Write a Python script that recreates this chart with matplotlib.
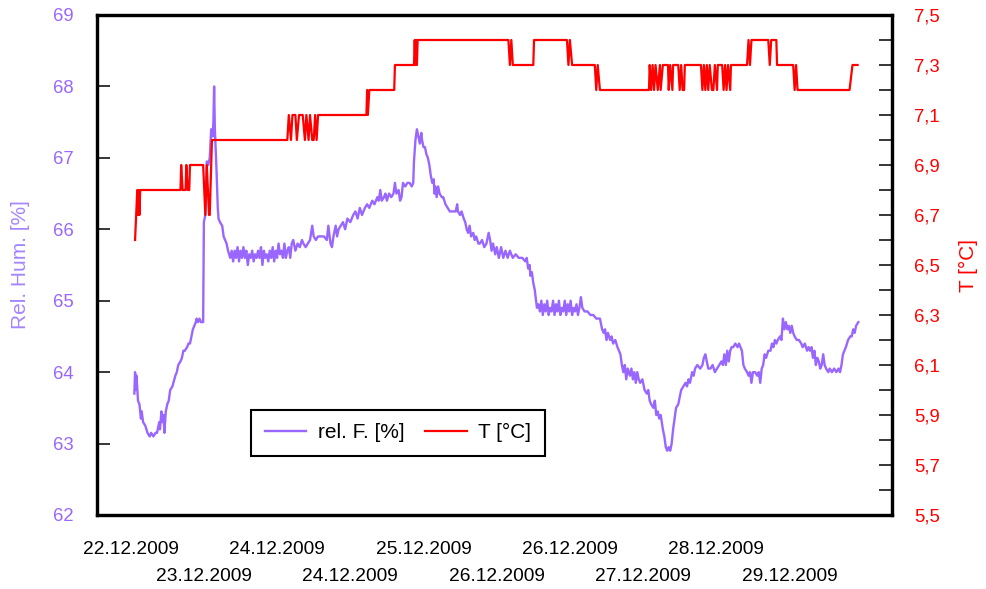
import matplotlib
matplotlib.use("Agg")
import matplotlib.pyplot as plt
from matplotlib.ticker import MultipleLocator

plt.rcParams["font.family"] = ["Liberation Sans", "DejaVu Sans"]

# x = Messpunkt (sample number), a date label every 100 samples
label_pos = [0, 100, 200, 300, 400, 500, 600, 700, 800, 900]
date_labels = ["22.12.2009", "23.12.2009", "24.12.2009", "24.12.2009", "25.12.2009",
               "26.12.2009", "26.12.2009", "27.12.2009", "28.12.2009", "29.12.2009"]

# relative humidity [%]
rh_x = [5, 6, 7, 8, 10, 12, 14, 15, 17, 20, 23, 26,
        28, 31, 34, 36, 39, 40, 42, 43, 45, 46, 48, 50,
        52, 54, 57, 61, 63, 65, 68, 70, 72, 74, 77, 79,
        81, 83, 85, 87, 89, 90, 92, 94, 96, 99, 100, 102,
        104, 106, 108, 110, 112, 113, 114, 115, 117, 119, 120, 122,
        125, 127, 129, 131, 133, 136, 138, 140, 142, 144, 146, 148,
        150, 152, 154, 156, 158, 160, 162, 164, 166, 168, 170, 172,
        174, 176, 178, 180, 182, 184, 186, 188, 190, 192, 194, 196,
        198, 200, 202, 204, 206, 208, 210, 212, 214, 216, 218, 220,
        222, 225, 228, 231, 234, 236, 239, 242, 245, 248, 250, 253,
        256, 260, 264, 268, 270, 273, 275, 277, 280, 282, 284, 287,
        290, 293, 296, 300, 304, 307, 310, 313, 316, 320, 323, 326,
        330, 333, 337, 339, 341, 343, 346, 348, 350, 353, 356, 359,
        361, 363, 366, 368, 370, 372, 375, 378, 381, 384, 386, 387,
        389, 391, 393, 395, 397, 398, 400, 402, 404, 406, 408, 410,
        412, 414, 415, 416, 418, 420, 422, 425, 427, 430, 433, 436,
        440, 444, 446, 447, 450, 452, 455, 457, 459, 461, 463, 465,
        468, 470, 472, 475, 477, 480, 483, 486, 489, 491, 493, 495,
        498, 500, 503, 506, 509, 512, 515, 518, 522, 526, 530, 535,
        539, 541, 543, 545, 546, 548, 550, 552, 555, 557, 559, 561,
        563, 565, 567, 569, 571, 573, 575, 577, 579, 581, 583, 585,
        587, 589, 591, 593, 595, 597, 599, 601, 603, 605, 607, 609,
        611, 613, 615, 617, 620, 624, 628, 632, 636, 641, 644, 646,
        648, 650, 652, 655, 657, 659, 662, 665, 667, 669, 671, 673,
        675, 677, 679, 682, 684, 686, 688, 690, 692, 694, 696, 699,
        702, 705, 707, 709, 711, 714, 716, 718, 720, 722, 724, 727,
        729, 731, 733, 735, 737, 739, 741, 743, 745, 748, 750, 752,
        755, 758, 760, 762, 764, 767, 769, 771, 774, 778, 781, 783,
        785, 787, 789, 792, 795, 798, 801, 804, 807, 809, 811, 813,
        815, 817, 819, 821, 823, 826, 829, 831, 833, 835, 837, 839,
        842, 844, 846, 848, 850, 853, 856, 858, 860, 862, 864, 866,
        868, 871, 874, 876, 878, 880, 882, 884, 887, 889, 891, 893,
        895, 897, 899, 901, 903, 905, 907, 910, 913, 916, 918, 921,
        924, 926, 928, 930, 932, 934, 936, 938, 940, 942, 944, 946,
        948, 950, 953, 955, 958, 961, 964, 967, 969, 971, 973, 975,
        977, 980, 983, 985, 987, 989, 991, 994]
rh_y = [63.7, 64.0, 63.75, 63.95, 63.6, 63.55, 63.35, 63.45, 63.3, 63.25, 63.15, 63.1,
        63.15, 63.1, 63.15, 63.15, 63.3, 63.2, 63.45, 63.3, 63.4, 63.15, 63.45, 63.55,
        63.6, 63.75, 63.8, 63.95, 64.0, 64.1, 64.15, 64.2, 64.3, 64.3, 64.35, 64.4,
        64.4, 64.5, 64.6, 64.65, 64.7, 64.75, 64.7, 64.75, 64.7, 64.7, 66.1, 66.2,
        66.95, 66.9, 67.0, 67.4, 67.3, 67.5, 68.0, 67.4, 66.9, 66.3, 66.15, 66.1,
        66.05, 65.9, 65.85, 65.8, 65.7, 65.6, 65.7, 65.55, 65.7, 65.6, 65.75, 65.55,
        65.7, 65.6, 65.75, 65.6, 65.7, 65.5, 65.65, 65.6, 65.7, 65.55, 65.65, 65.6,
        65.7, 65.6, 65.75, 65.5, 65.7, 65.6, 65.65, 65.55, 65.7, 65.6, 65.75, 65.55,
        65.7, 65.6, 65.8, 65.65, 65.7, 65.6, 65.8, 65.6, 65.7, 65.75, 65.6, 65.8,
        65.85, 65.7, 65.8, 65.75, 65.85, 65.8, 65.75, 65.8, 65.85, 66.05, 65.9, 65.85,
        65.9, 65.9, 65.9, 65.85, 66.05, 65.8, 65.75, 65.9, 66.05, 65.9, 66.0, 66.05,
        66.1, 66.0, 66.15, 66.1, 66.2, 66.25, 66.15, 66.3, 66.2, 66.3, 66.35, 66.3,
        66.4, 66.35, 66.45, 66.4, 66.55, 66.4, 66.45, 66.5, 66.4, 66.5, 66.45, 66.5,
        66.65, 66.5, 66.55, 66.4, 66.45, 66.65, 66.6, 66.65, 66.65, 66.6, 66.65, 66.95,
        67.25, 67.4, 67.3, 67.2, 67.35, 67.25, 67.15, 67.15, 67.05, 67.0, 66.9, 66.75,
        66.65, 66.7, 66.5, 66.6, 66.45, 66.6, 66.5, 66.45, 66.45, 66.35, 66.3, 66.25,
        66.25, 66.25, 66.35, 66.25, 66.2, 66.25, 66.15, 66.1, 66.0, 65.95, 66.05, 65.9,
        65.95, 65.85, 65.9, 65.8, 65.8, 65.85, 65.75, 65.8, 65.95, 65.85, 65.7, 65.8,
        65.65, 65.75, 65.6, 65.75, 65.6, 65.7, 65.6, 65.7, 65.6, 65.65, 65.6, 65.6,
        65.55, 65.6, 65.45, 65.5, 65.35, 65.4, 65.25, 65.15, 64.9, 64.95, 64.85, 65.0,
        64.8, 64.95, 64.85, 65.0, 64.8, 64.9, 64.85, 65.0, 64.8, 64.95, 64.85, 65.0,
        64.8, 64.9, 64.85, 65.0, 64.8, 64.95, 64.85, 65.0, 64.8, 64.9, 64.85, 64.95,
        64.8, 64.9, 65.05, 64.9, 64.85, 64.85, 64.8, 64.8, 64.75, 64.75, 64.6, 64.55,
        64.6, 64.45, 64.55, 64.45, 64.5, 64.4, 64.45, 64.35, 64.3, 64.25, 64.1, 64.0,
        64.1, 63.9, 64.05, 63.95, 64.05, 63.9, 64.0, 63.85, 64.0, 63.9, 63.85, 63.9,
        63.75, 63.7, 63.75, 63.6, 63.55, 63.5, 63.6, 63.4, 63.45, 63.35, 63.4, 63.2,
        63.1, 62.95, 62.9, 62.95, 62.9, 63.0, 63.2, 63.35, 63.5, 63.55, 63.65, 63.75,
        63.8, 63.85, 63.8, 63.9, 63.85, 64.0, 63.95, 64.05, 64.1, 64.05, 64.1, 64.2,
        64.25, 64.15, 64.05, 64.05, 64.1, 64.0, 64.05, 64.1, 64.15, 64.1, 64.25, 64.1,
        64.3, 64.15, 64.3, 64.35, 64.35, 64.4, 64.35, 64.4, 64.35, 64.3, 64.1, 64.05,
        64.0, 63.95, 64.0, 63.85, 64.0, 64.0, 63.95, 64.0, 63.85, 64.05, 64.1, 64.25,
        64.2, 64.3, 64.3, 64.4, 64.35, 64.45, 64.4, 64.45, 64.5, 64.45, 64.75, 64.6,
        64.7, 64.6, 64.65, 64.55, 64.65, 64.55, 64.5, 64.45, 64.45, 64.4, 64.35, 64.4,
        64.3, 64.35, 64.3, 64.35, 64.2, 64.3, 64.1, 64.2, 64.15, 64.05, 64.1, 64.25,
        64.1, 64.05, 64.0, 64.05, 64.0, 64.05, 64.0, 64.05, 64.0, 64.1, 64.25, 64.3,
        64.35, 64.45, 64.5, 64.5, 64.6, 64.55, 64.65, 64.7]

# temperature [°C], 0.1 K resolution
t_x = [6, 9, 10, 11, 12, 13, 68, 69, 71, 75, 76, 78, 80, 81, 99, 102, 104, 107, 108, 111,
       214, 216, 219, 221, 225, 227, 230, 235, 238, 240, 243, 245, 248, 250, 252, 254, 256,
       322, 323, 324, 326, 360, 361, 387, 388, 389, 390, 391, 392,
       516, 518, 520, 522, 550, 551, 596, 598, 600, 603, 634, 636, 638, 641,
       708, 709, 711, 713, 715, 717, 720, 723, 724, 727, 734, 735, 737, 740, 741,
       748, 750, 752, 754, 756, 757,
       779, 781, 783, 785, 787, 789, 791, 794, 796, 798, 801, 802, 808, 810, 812, 814,
       816, 819, 820,
       842, 844, 846, 848, 849, 871, 873, 875, 876, 882, 883, 905, 907, 909, 911,
       982, 986, 993]
t_y = [6.6, 6.8, 6.7, 6.8, 6.7, 6.8, 6.8, 6.9, 6.8, 6.8, 6.9, 6.8, 6.8, 6.9, 6.9, 6.7, 6.9, 6.7, 6.7, 7.0,
       7.0, 7.1, 7.0, 7.1, 7.1, 7.0, 7.1, 7.1, 7.0, 7.1, 7.0, 7.1, 7.0, 7.0, 7.1, 7.0, 7.1,
       7.1, 7.2, 7.1, 7.2, 7.2, 7.3, 7.3, 7.4, 7.3, 7.4, 7.3, 7.4,
       7.4, 7.3, 7.4, 7.3, 7.3, 7.4, 7.4, 7.3, 7.4, 7.3, 7.3, 7.2, 7.3, 7.2,
       7.2, 7.3, 7.2, 7.3, 7.2, 7.3, 7.2, 7.3, 7.2, 7.3, 7.3, 7.2, 7.3, 7.2, 7.3,
       7.3, 7.2, 7.3, 7.2, 7.2, 7.3,
       7.3, 7.2, 7.3, 7.2, 7.3, 7.2, 7.3, 7.2, 7.2, 7.3, 7.2, 7.3, 7.3, 7.2, 7.3, 7.2,
       7.3, 7.2, 7.3,
       7.3, 7.4, 7.3, 7.4, 7.4, 7.4, 7.3, 7.4, 7.4, 7.4, 7.3, 7.3, 7.2, 7.3, 7.2,
       7.2, 7.3, 7.3]

rh_ticks = [62, 63, 64, 65, 66, 67, 68, 69]
t_ticks = [5.5, 5.7, 5.9, 6.1, 6.3, 6.5, 6.7, 6.9, 7.1, 7.3, 7.5]
t_labels = ["5,5", "5,7", "5,9", "6,1", "6,3", "6,5", "6,7", "6,9", "7,1", "7,3", "7,5"]

purple = "#9966ff"

fig = plt.figure(figsize=(9.86, 5.89), dpi=100)
ax = fig.add_axes([97 / 986, 74 / 589, 795 / 986, 500 / 589])
l1, = ax.plot(rh_x, rh_y, color=purple, lw=1.7, label="rel. F. [%]")
ax2 = ax.twinx()
l2, = ax2.plot(t_x, t_y, color="red", lw=1.6, label="T [°C]")

ax.set_xlim(-46, 1040)
ax.set_ylim(62, 69)
ax2.set_ylim(5.5, 7.5)

# dates in two staggered rows
ax.set_xticks(label_pos[::2], date_labels[::2])
ax.set_xticks(label_pos[1::2], date_labels[1::2], minor=True)
ax.tick_params(axis="x", which="both", length=0, labelsize=13.8)
ax.tick_params(axis="x", which="major", pad=19)
ax.tick_params(axis="x", which="minor", pad=38)

ax.set_yticks(rh_ticks)
ax.tick_params(axis="y", direction="in", length=9.4, width=1.1,
               labelcolor=purple, labelsize=13.3, pad=17)
ax2.set_yticks(t_ticks, t_labels)
ax2.yaxis.set_minor_locator(MultipleLocator(0.1))
ax2.tick_params(axis="y", which="both", direction="in", length=9.4, width=1.1,
                labelcolor="red", labelsize=13.3, pad=16)

for a in (ax, ax2):
    for sp in a.spines.values():
        sp.set_linewidth(2.3)

ax.set_ylabel("Rel. Hum. [%]", color="#a585ff", fontsize=15)
ax.yaxis.set_label_coords(-0.084, 0.5)
ax2.set_ylabel("T [°C]", color="red", fontsize=15)
ax2.yaxis.set_label_coords(1.084, 0.5)

leg = ax2.legend(handles=[l1, l2], loc="lower left",
                 bbox_to_anchor=(251 / 986, 133 / 589), bbox_transform=fig.transFigure,
                 ncol=2, fontsize=15, frameon=True, fancybox=False, edgecolor="black",
                 framealpha=1, borderpad=0.65, handlelength=2.0, handletextpad=0.55,
                 columnspacing=1.0, borderaxespad=0)
leg.get_frame().set_linewidth(1.5)

fig.savefig("out.png", dpi=100)
